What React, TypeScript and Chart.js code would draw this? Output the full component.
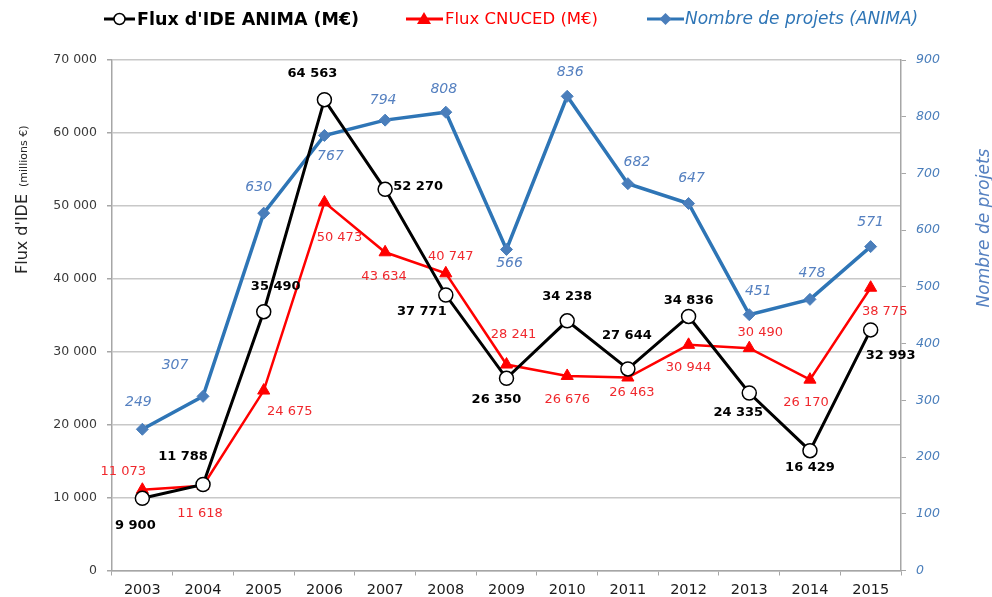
import React, { useEffect, useRef } from "react";
import { Chart, registerables } from "chart.js";

Chart.register(...registerables);

// ---------- data ----------
const years = ["2003", "2004", "2005", "2006", "2007", "2008", "2009", "2010", "2011", "2012", "2013", "2014", "2015"];
const fluxAnima = [9900, 11788, 35490, 64563, 52270, 37771, 26350, 34238, 27644, 34836, 24335, 16429, 32993];
const fluxCnuced = [11073, 11618, 24675, 50473, 43634, 40747, 28241, 26676, 26463, 30944, 30490, 26170, 38775];
const nbProjets = [249, 307, 630, 767, 794, 808, 566, 836, 682, 647, 451, 478, 571];

const legendLabels = ["Flux d'IDE ANIMA (M€)", "Flux CNUCED (M€)", "Nombre de projets (ANIMA)"];
const leftAxisTitle = "Flux d'IDE";
const leftAxisSubTitle = "(millions €)";
const rightAxisTitle = "Nombre de projets";

// ---------- label placement (pixel offsets from each point) ----------
const animaLabelOffset: [number, number][] = [
  [-7, 27], [-20, -28], [12, -25], [-12, -26], [33, -3], [-24, 17], [-10, 21],
  [0, -24], [-1, -33], [0, -16], [-11, 20], [0, 17], [20, 26],
];
const cnucedLabelOffset: [number, number][] = [
  [-19, -18], [-3, 28], [26, 21], [15, 35], [-1, 24], [5, -17], [7, -30],
  [0, 24], [4, 15], [0, 23], [11, -16], [-4, 23], [14, 24],
];
const projetsLabelOffset: [number, number][] = [
  [-4, -27], [-28, -31], [-5, -26], [6, 21], [-2, -20], [-2, -23], [3, 14],
  [3, -24], [9, -21], [3, -25], [9, -23], [2, -26], [0, -24],
];

const BLACK = "#000000";
const RED = "#ff0000";
const RED_LABEL = "#f0282d";
const BLUE = "#2e75b6";
const BLUE_MARK = "#4a7ebb";
const BLUE_LABEL = "#5580c0";
const GRID = "#c8c8c8";
const AXIS = "#a6a6a6";
const FONT = "'DejaVu Sans', Verdana, sans-serif";

const fmt = (v: number) => {
  const s = Math.round(v).toString();
  return s.replace(/\B(?=(\d{3})+(?!\d))/g, " ");
};

const dataLabelPlugin = {
  id: "dataLabels",
  afterDatasetsDraw(chart: any) {
    const ctx = chart.ctx;
    const specs = [
      { idx: 0, values: fluxAnima, off: animaLabelOffset, font: `bold 13px ${FONT}`, color: BLACK, f: fmt },
      { idx: 1, values: fluxCnuced, off: cnucedLabelOffset, font: `13px ${FONT}`, color: RED_LABEL, f: fmt },
      { idx: 2, values: nbProjets, off: projetsLabelOffset, font: `oblique 14px ${FONT}`, color: BLUE_LABEL, f: (v: number) => String(v) },
    ];
    ctx.save();
    ctx.textAlign = "center";
    ctx.textBaseline = "middle";
    for (const s of specs) {
      const meta = chart.getDatasetMeta(s.idx);
      ctx.font = s.font;
      ctx.fillStyle = s.color;
      meta.data.forEach((pt: any, i: number) => {
        const [dx, dy] = s.off[i];
        ctx.fillText(s.f(s.values[i]), pt.x + dx, pt.y + dy);
      });
    }
    ctx.restore();
  },
};

const decorPlugin = {
  id: "decor",
  afterDraw(chart: any) {
    const ctx = chart.ctx;
    ctx.save();
    // ---- legend ----
    const ly = 19;
    // black
    ctx.lineWidth = 3;
    ctx.strokeStyle = BLACK;
    ctx.beginPath(); ctx.moveTo(104, ly); ctx.lineTo(135, ly); ctx.stroke();
    ctx.beginPath(); ctx.arc(119.5, ly, 5.5, 0, Math.PI * 2);
    ctx.fillStyle = "#fff"; ctx.fill(); ctx.lineWidth = 1.5; ctx.stroke();
    ctx.font = `bold 17.5px ${FONT}`;
    ctx.fillStyle = BLACK;
    ctx.textBaseline = "middle";
    ctx.textAlign = "left";
    ctx.fillText(legendLabels[0], 137, ly + 1);
    // red
    ctx.lineWidth = 3;
    ctx.strokeStyle = RED;
    ctx.beginPath(); ctx.moveTo(406, ly); ctx.lineTo(443, ly); ctx.stroke();
    ctx.fillStyle = RED;
    ctx.beginPath(); ctx.moveTo(424, ly - 7); ctx.lineTo(431, ly + 5); ctx.lineTo(417, ly + 5); ctx.closePath(); ctx.fill();
    ctx.font = `16.5px ${FONT}`;
    ctx.fillText(legendLabels[1], 445, ly + 1);
    // blue
    ctx.lineWidth = 3;
    ctx.strokeStyle = BLUE;
    ctx.beginPath(); ctx.moveTo(647, ly); ctx.lineTo(684, ly); ctx.stroke();
    ctx.fillStyle = BLUE_MARK;
    ctx.beginPath(); ctx.moveTo(665.5, ly - 6); ctx.lineTo(671.5, ly); ctx.lineTo(665.5, ly + 6); ctx.lineTo(659.5, ly); ctx.closePath(); ctx.fill();
    ctx.font = `oblique 17px ${FONT}`;
    ctx.fillStyle = BLUE;
    ctx.fillText(legendLabels[2], 685, ly + 1);

    // ---- left axis title ----
    ctx.save();
    ctx.translate(27, 274);
    ctx.rotate(-Math.PI / 2);
    ctx.textBaseline = "alphabetic";
    ctx.textAlign = "left";
    ctx.fillStyle = "#262626";
    ctx.font = `16px ${FONT}`;
    ctx.fillText(leftAxisTitle, 0, 0);
    const w = ctx.measureText(leftAxisTitle).width;
    ctx.font = `11px ${FONT}`;
    ctx.fillText(leftAxisSubTitle, w + 7, 0);
    ctx.restore();

    // ---- right axis title ----
    ctx.save();
    ctx.translate(985, 228);
    ctx.rotate(-Math.PI / 2);
    ctx.textBaseline = "middle";
    ctx.textAlign = "center";
    ctx.fillStyle = BLUE_LABEL;
    ctx.font = `oblique 17px ${FONT}`;
    ctx.fillText(rightAxisTitle, 0, 0);
    ctx.restore();

    ctx.restore();
  },
};

export default function App() {
  const canvasRef = useRef<HTMLCanvasElement | null>(null);

  useEffect(() => {
    document.body.style.margin = "0";
    const canvas = canvasRef.current;
    if (!canvas) return;
    const chart = new Chart(canvas, {
      type: "line",
      data: {
        labels: years,
        datasets: [
          {
            label: legendLabels[0],
            data: fluxAnima,
            yAxisID: "y",
            borderColor: BLACK,
            borderWidth: 3,
            pointStyle: "circle",
            pointRadius: 7,
            pointBackgroundColor: "#ffffff",
            pointBorderColor: BLACK,
            pointBorderWidth: 1.5,
            tension: 0,
          },
          {
            label: legendLabels[1],
            data: fluxCnuced,
            yAxisID: "y",
            borderColor: RED,
            borderWidth: 2.5,
            pointStyle: "triangle",
            pointRadius: 7,
            pointBackgroundColor: RED,
            pointBorderColor: RED,
            pointBorderWidth: 1,
            tension: 0,
          },
          {
            label: legendLabels[2],
            data: nbProjets,
            yAxisID: "y1",
            borderColor: BLUE,
            borderWidth: 3.5,
            pointStyle: "rectRot",
            pointRadius: 6,
            pointBackgroundColor: BLUE_MARK,
            pointBorderColor: BLUE_MARK,
            pointBorderWidth: 1,
            tension: 0,
          },
        ],
      },
      options: {
        animation: false,
        responsive: true,
        maintainAspectRatio: false,
        layout: { padding: { top: 60, left: 0, right: 0, bottom: 0 } },
        plugins: {
          legend: { display: false },
          tooltip: { enabled: false },
          title: { display: false },
        },
        scales: {
          x: {
            type: "category",
            offset: true,
            grid: { offset: true, drawOnChartArea: false, tickLength: 5, color: AXIS },
            border: { color: AXIS, width: 1.5 },
            ticks: { font: { family: FONT, size: 14.5 }, color: "#1a1a1a", padding: 6, maxRotation: 0 },
            afterFit: (s: any) => { s.height = 26.5; },
          },
          y: {
            position: "left",
            min: 0,
            max: 70000,
            ticks: {
              stepSize: 10000,
              font: { family: FONT, size: 12.5 },
              color: "#3a3a3a",
              padding: 10,
              callback: (v: any) => fmt(Number(v)),
            },
            grid: { color: GRID, lineWidth: 1.5, tickLength: 5, tickColor: AXIS },
            border: { color: AXIS, width: 1.5 },
            afterFit: (s: any) => { s.width = 112; },
          },
          y1: {
            position: "right",
            min: 0,
            max: 900,
            ticks: {
              stepSize: 100,
              font: { family: FONT, size: 12.5, style: "italic" },
              color: BLUE_MARK,
              padding: 10,
            },
            grid: { drawOnChartArea: false, tickLength: 5, color: AXIS },
            border: { color: AXIS, width: 1.5 },
            afterFit: (s: any) => { s.width = 91; },
          },
        },
      },
      plugins: [dataLabelPlugin, decorPlugin],
    } as any);
    return () => chart.destroy();
  }, []);

  return (
    <div style={{ width: 992, height: 597, position: "relative", background: "#fff" }}>
      <canvas ref={canvasRef} />
    </div>
  );
}
